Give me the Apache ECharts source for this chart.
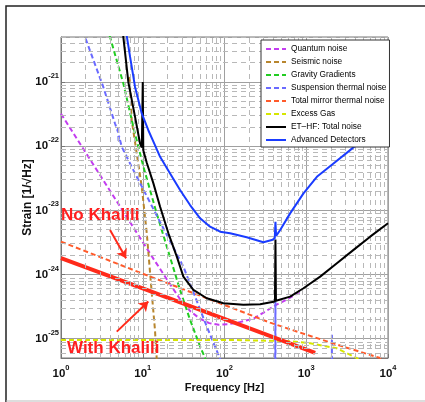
<!DOCTYPE html>
<html>
<head>
<meta charset="utf-8">
<script src="https://cdn.jsdelivr.net/npm/echarts@6/dist/echarts.min.js"></script>
<style>
  html, body { margin: 0; padding: 0; background: #ffffff; }
  #chart { width: 425px; height: 402px; }
</style>
</head>
<body>
<div id="chart"></div>
<script>
// ET-HF noise budget: frequency in Hz, strain in 1/sqrt(Hz)
const quantumFreq   = [1, 3, 8, 13, 20, 28, 38, 50, 65, 85, 110, 150, 226, 300, 416, 580, 880];
const quantumStrain = [3.2e-22, 3.55e-23, 5.0e-24, 1.9e-24, 8.2e-25, 4.3e-25, 2.7e-25, 2.05e-25, 1.75e-25, 1.65e-25, 1.68e-25, 1.8e-25, 2.05e-25, 2.55e-25, 3.3e-25, 4.1e-25, 5.5e-25];

const seismicFreq   = [6.9, 7.33, 9.72, 11.2, 12.9, 14.1, 14.8, 15.5];
const seismicStrain = [1.2e-21, 2.54e-22, 2.33e-23, 4.4e-24, 5.1e-25, 1.38e-25, 5.0e-26, 2.0e-26];

const gravityFreq   = [3.7, 3.98, 5.79, 7.67, 10.2, 14.8, 19.7, 28.6, 37.9, 50.3, 57.9, 62];
const gravityStrain = [6.9e-21, 5.0e-21, 9.44e-22, 2.0e-22, 4.76e-23, 8.97e-24, 2.72e-24, 5.75e-25, 1.97e-25, 7.59e-26, 5.0e-26, 3.5e-26];

const suspensionFreq   = [1.85, 3.29, 4.58, 4.95, 5.0, 5.06, 5.12, 5.53, 8.05, 16.3, 31.4, 60.7, 92.7, 410, 419, 420, 421, 430, 2040, 2055, 2060, 2065, 2080];
const suspensionStrain = [6.2e-21, 8.36e-22, 2.25e-22, 1.7e-22, 2.0e-22, 1.17e-22, 1.45e-22, 9.75e-23, 3.76e-23, 6.58e-24, 1.33e-24, 1.55e-25, 4.2e-26, 1e-27, 1e-27, 3.8e-25, 1e-27, 1e-27, 1e-27, 1e-27, 1.15e-25, 1e-27, 1e-27];

const mirrorFreq   = [1, 12.3, 100, 226, 361, 1000, 2370, 8030, 10000];
const mirrorStrain = [3.25e-24, 9.3e-25, 3.35e-25, 2.25e-25, 1.78e-25, 1.16e-25, 8.1e-26, 5.0e-26, 4.5e-26];

const gasFreq   = [1, 100, 600, 1117, 2370, 4160, 5000];
const gasStrain = [9.6e-26, 9.6e-26, 9.2e-26, 8.5e-26, 7.1e-26, 5.0e-26, 4.0e-26];

const etFreq   = [5.65, 5.79, 6.66, 8.05, 9.27, 9.75, 10.0, 10.15, 11.2, 13.5, 16.3, 20.6, 26.1, 31.4, 41.6, 60.7, 97, 170, 273, 414, 420, 426, 635, 925, 1480, 2370, 3790, 6050, 10000];
const etStrain = [7.0e-21, 5.0e-21, 1.0e-21, 2.86e-22, 1.10e-22, 9.5e-23, 1.0e-21, 8.6e-23, 5.5e-23, 2.63e-23, 1.14e-23, 4.39e-24, 1.90e-24, 9.27e-25, 5.75e-25, 4.27e-25, 3.58e-25, 3.37e-25, 3.45e-25, 3.80e-25, 3.5e-24, 3.9e-25, 4.53e-25, 6.12e-25, 9.27e-25, 1.50e-24, 2.42e-24, 3.89e-24, 6.3e-24];

const advFreq   = [6.2, 7.0, 8.05, 9.72, 11.7, 14.1, 16.3, 21.6, 28.6, 37.9, 50.3, 66.6, 88.3, 117, 187, 299, 379, 412, 420, 428, 480, 635, 925, 1349, 2153, 3443, 10000];
const advStrain = [6.5e-21, 2.45e-21, 8.36e-22, 3.23e-22, 1.77e-22, 1.04e-22, 6.82e-23, 3.76e-23, 2.07e-23, 1.21e-23, 7.51e-24, 5.56e-24, 4.65e-24, 4.39e-24, 3.80e-24, 3.18e-24, 3.45e-24, 3.67e-24, 6.65e-24, 4.0e-24, 4.94e-24, 8.97e-24, 1.84e-23, 3.33e-23, 5.38e-23, 8.67e-23, 2.8e-22];

// Mirror thermal noise with Khalili cavities
const khaliliFreq   = [1, 12.3, 1285];
const khaliliStrain = [1.8e-24, 5.5e-25, 6.0e-26];

// Arrows from the annotations to the two mirror thermal curves: [fromFreq, fromStrain, toFreq, toStrain]
const noKhaliliArrow   = [3.98, 4.93e-24, 6.25, 1.79e-24];
const withKhaliliArrow = [4.81, 1.29e-25, 11.7, 3.79e-25];

// Axis ranges (decades) and the decades that carry minor grid lines
const freqRange   = [1, 1e4];
const strainRange = [Math.pow(10, -25.3), Math.pow(10, -20.3)];
const freqDecades   = [0, 1, 2, 3];
const strainDecades = [-26, -25, -24, -23, -22, -21];

const legendNames = ['Quantum noise', 'Seismic noise', 'Gravity Gradients', 'Suspension thermal noise',
  'Total mirror thermal noise', 'Excess Gas', 'ET\u2013HF: Total noise', 'Advanced Detectors'];

const FONT = '"Liberation Sans", Arial, Helvetica, sans-serif';
const lg = Math.log10;

// Both axes are decade (log10) value axes
function pairs(fs, hs) { return fs.map((f, i) => [lg(f), lg(hs[i])]); }

const minorX = [];
freqDecades.forEach(n => { for (let k = 2; k <= 9; k++) minorX.push({ xAxis: lg(k) + n }); });
const minorY = [];
strainDecades.forEach(n => {
  for (let k = 2; k <= 9; k++) {
    const v = lg(k) + n;
    if (v > lg(strainRange[0]) + 0.001 && v < lg(strainRange[1]) + 0.001) minorY.push({ yAxis: v });
  }
});

function powerLabel(v) {
  if (Math.abs(v - Math.round(v)) > 1e-3) return '';
  return '{b|10}{e|' + Math.round(v) + '}';
}

// "10" sits in the middle of a 20px line, the exponent hugs the top of it
const powerRich = {
  b: { fontFamily: FONT, fontSize: 11.5, fontWeight: 'bold', color: '#111', lineHeight: 20, verticalAlign: 'middle' },
  e: { fontFamily: FONT, fontSize: 7.5, fontWeight: 'bold', color: '#111', lineHeight: 9, verticalAlign: 'top' }
};

function dashed(name, fs, hs, color) {
  return {
    name, type: 'line', data: pairs(fs, hs), showSymbol: false, symbol: 'none', z: 3, silent: true,
    lineStyle: { color, width: 2, type: [5, 3] }, itemStyle: { color }
  };
}

function arrow(a) { return [{ coord: [lg(a[0]), lg(a[1])] }, { coord: [lg(a[2]), lg(a[3])] }]; }

const chart = echarts.init(document.getElementById('chart'), null, { renderer: 'canvas' });

chart.setOption({
  animation: false,
  backgroundColor: '#ffffff',
  grid: { left: 61, top: 37, right: 37, bottom: 44, show: true, borderColor: '#777', borderWidth: 1 },
  xAxis: {
    type: 'value', min: lg(freqRange[0]), max: lg(freqRange[1]), interval: 1,
    name: 'Frequency [Hz]', nameLocation: 'middle', nameGap: 24, nameMoveOverlap: false,
    nameTextStyle: { fontFamily: FONT, fontSize: 11, fontWeight: 'bold', color: '#111' },
    axisLine: { lineStyle: { color: '#777' } },
    axisTick: { inside: true, length: 4, lineStyle: { color: '#777' } },
    axisLabel: { formatter: powerLabel, rich: powerRich, margin: 6 },
    splitLine: { show: true, lineStyle: { color: '#a0a0a0', width: 1 } }
  },
  yAxis: {
    type: 'value', min: lg(strainRange[0]), max: lg(strainRange[1]), splitNumber: 5,
    name: 'Strain [1/\u221AHz]', nameLocation: 'middle', nameGap: 27, nameRotate: 90, nameMoveOverlap: false,
    nameTextStyle: { fontFamily: FONT, fontSize: 12, fontWeight: 'bold', color: '#111' },
    axisLine: { lineStyle: { color: '#777' } },
    axisTick: { inside: true, length: 4, lineStyle: { color: '#777' } },
    axisLabel: { formatter: powerLabel, rich: powerRich, margin: 2 },
    splitLine: { show: true, lineStyle: { color: '#a0a0a0', width: 1 } }
  },
  legend: {
    data: legendNames, orient: 'vertical', left: 261, top: 40, z: 20,
    itemWidth: 20, itemHeight: 8, itemGap: 3, padding: [4, 3, 2, 4],
    backgroundColor: '#ffffff', borderColor: '#333', borderWidth: 1,
    selectedMode: false,
    itemStyle: { opacity: 0 },
    textStyle: { fontFamily: FONT, fontSize: 8.3, color: '#000', lineHeight: 10 }
  },
  graphic: [
    { type: 'polyline', silent: true, shape: { points: [[6, 402], [6, 6], [425, 6]] }, style: { stroke: '#222', lineWidth: 1.5, fill: null } },
    { type: 'line', silent: true, shape: { x1: 6, y1: 401, x2: 425, y2: 401 }, style: { stroke: '#bbb', lineWidth: 1 } },
    { type: 'text', silent: true, z: 100, style: { x: 61, y: 215, text: 'No Khalili', fill: '#ff1f1f', font: 'bold 17px ' + FONT, verticalAlign: 'middle' } },
    { type: 'text', silent: true, z: 100, style: { x: 67, y: 348, text: 'With Khalili', fill: '#ff1f1f', font: 'bold 17px ' + FONT, verticalAlign: 'middle' } }
  ],
  series: [
    {
      name: 'grid-minor', type: 'line', data: [], silent: true, z: 1,
      markLine: {
        silent: true, symbol: ['none', 'none'], animation: false,
        label: { show: false },
        lineStyle: { color: '#b8b8b8', width: 1, type: [5, 4] },
        emphasis: { disabled: true },
        data: minorX.concat(minorY)
      }
    },
    dashed('Quantum noise', quantumFreq, quantumStrain, '#c33cf0'),
    dashed('Seismic noise', seismicFreq, seismicStrain, '#b8862e'),
    dashed('Gravity Gradients', gravityFreq, gravityStrain, '#22cc22'),
    dashed('Suspension thermal noise', suspensionFreq, suspensionStrain, '#6a6aff'),
    dashed('Total mirror thermal noise', mirrorFreq, mirrorStrain, '#ff5a2a'),
    dashed('Excess Gas', gasFreq, gasStrain, '#d6e600'),
    {
      name: 'With Khalili', type: 'line', data: pairs(khaliliFreq, khaliliStrain), showSymbol: false, symbol: 'none', z: 4, silent: true,
      lineStyle: { color: '#ff2a1a', width: 4 }, itemStyle: { color: '#ff2a1a' },
      markLine: {
        silent: true, symbol: ['none', 'arrow'], symbolSize: 9, animation: false,
        label: { show: false }, emphasis: { disabled: true },
        lineStyle: { color: '#ff2a1a', width: 2, type: 'solid' },
        data: [arrow(noKhaliliArrow), arrow(withKhaliliArrow)]
      }
    },
    {
      name: legendNames[6], type: 'line', data: pairs(etFreq, etStrain), showSymbol: false, symbol: 'none', z: 5, silent: true,
      lineStyle: { color: '#000000', width: 2 }, itemStyle: { color: '#000000' }
    },
    {
      name: 'Advanced Detectors', type: 'line', data: pairs(advFreq, advStrain), showSymbol: false, symbol: 'none', z: 5, silent: true,
      lineStyle: { color: '#1a3cff', width: 2 }, itemStyle: { color: '#1a3cff' }
    }
  ]
});
</script>
</body>
</html>
